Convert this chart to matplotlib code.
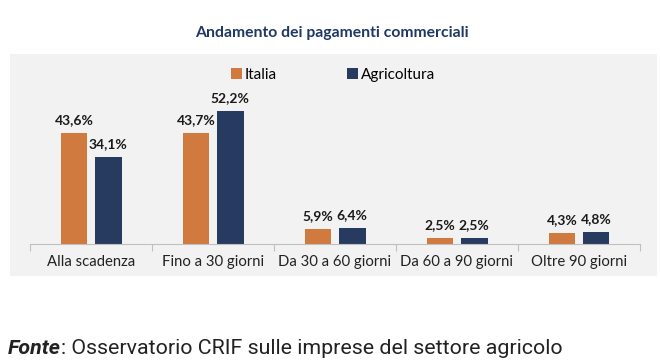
import matplotlib
matplotlib.use("Agg")
import matplotlib.pyplot as plt
from matplotlib.patches import Rectangle
import numpy as np

categories = ["Alla scadenza", "Fino a 30 giorni", "Da 30 a 60 giorni", "Da 60 a 90 giorni", "Oltre 90 giorni"]
italia = [43.6, 43.7, 5.9, 2.5, 4.3]
agricoltura = [34.1, 52.2, 6.4, 2.5, 4.8]
series_names = ["Italia", "Agricoltura"]
title = "Andamento dei pagamenti commerciali"
source_bold = "Fonte"
source_rest = ": Osservatorio CRIF sulle imprese del settore agricolo"

c_it = "#D07A40"
c_ag = "#263B5F"

plt.rcParams['font.family'] = ['Lato', 'DejaVu Sans']

fig = plt.figure(figsize=(6.6, 3.61), dpi=100)
fig.patch.set_facecolor("white")
fig.patches.append(Rectangle((10/660, 1-276/361), 647/660, 222/361, transform=fig.transFigure,
                             facecolor="#F2F2F2", edgecolor="none", zorder=-5))

ax = fig.add_axes([30/660, 1-244/361, 610/660, 152.8/361])
ax.set_facecolor("none")
ax.set_zorder(2)
x = np.arange(len(categories))
w = 0.22
off = 0.14
b1 = ax.bar(x - off, italia, w, color=c_it, label=series_names[0])
b2 = ax.bar(x + off, agricoltura, w, color=c_ag, label=series_names[1])
for bars, vals in ((b1, italia), (b2, agricoltura)):
    for b, v in zip(bars, vals):
        ax.annotate(f"{v:.1f}%".replace(".", ","), (b.get_x()+b.get_width()/2, b.get_height()),
                    xytext=(0, 5), textcoords="offset points", ha="center", va="bottom",
                    fontsize=10, fontweight="bold", color="#1a1a1a")
ax.set_xlim(-0.5, 4.5)
ax.set_ylim(0, 60)
ax.set_yticks([])
for s in ["top", "right", "left"]:
    ax.spines[s].set_visible(False)
ax.spines["bottom"].set_color("#BFBFBF")
ax.set_xticks(np.arange(-0.5, 5, 1), minor=False)
ax.set_xticklabels([])
ax.tick_params(axis="x", which="major", length=5, color="#BFBFBF")
ax.set_xticks(x, minor=True)
ax.set_xticklabels(categories, minor=True, fontsize=10.7, color="#222222")
ax.tick_params(axis="x", which="minor", length=0, pad=8)

fig.legend(handles=[b1, b2], labels=series_names, loc="center", bbox_to_anchor=(333/660, 1-75/361),
           ncol=2, frameon=False, fontsize=11, handlelength=0.7, handleheight=0.7,
           columnspacing=4.6, handletextpad=0.2)

fig.text(332/660, 1-33/361, title, ha="center", va="center", fontsize=11.3,
         fontweight="bold", color="#1F3864")

t1 = fig.text(8/660, 1-348/361, source_bold, ha="left", va="center", fontsize=15.4,
              fontweight="bold", fontstyle="italic", family="Roboto", color="#222222")
fig.canvas.draw()
bb = t1.get_window_extent()
fig.text(bb.x1/660, 1-348/361, source_rest, ha="left", va="center", fontsize=15.4,
         family="Roboto", color="#222222")

fig.savefig("out.png", dpi=100)
